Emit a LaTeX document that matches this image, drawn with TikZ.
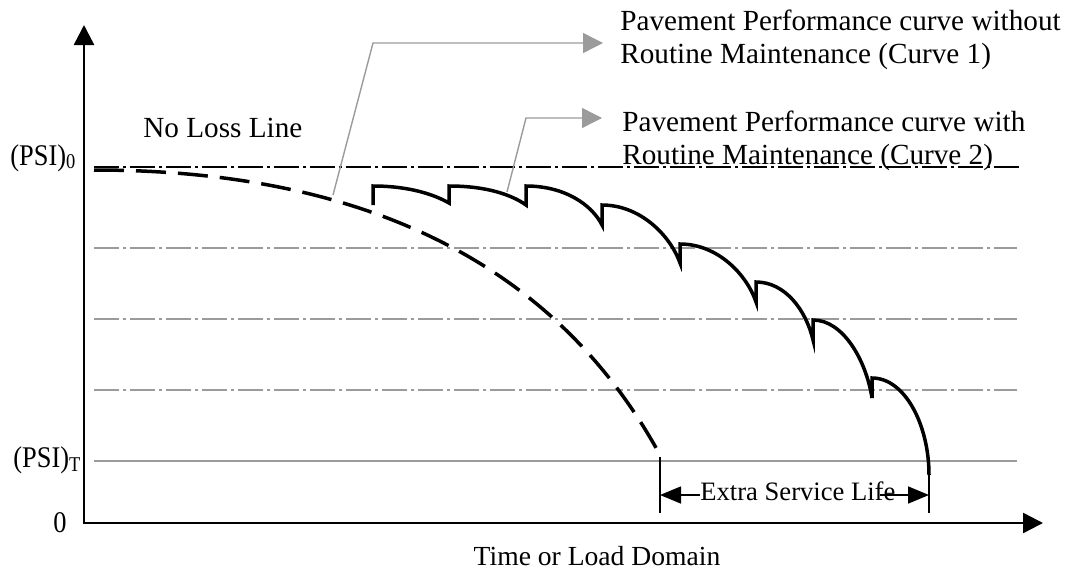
\documentclass[tikz,border=0pt]{standalone}
\usepackage{fontspec}
\setmainfont{Liberation Serif}
\newfontfamily\condserif[FakeStretch=0.88]{Liberation Serif}
\usetikzlibrary{arrows.meta}
\definecolor{lgray}{RGB}{155,155,155}
\begin{document}
\begin{tikzpicture}[x=0.5pt,y=-0.5pt,
  every node/.style={inner sep=0pt, font=\fontsize{14.6}{16}\selectfont},
  axisline/.style={line width=1.25pt, {Triangle[length=10pt,width=10pt]}-{Triangle[length=10pt,width=10pt]}},
  noloss/.style={line width=1pt, black, dash pattern=on 12.5pt off 2pt on 1.5pt off 2pt},
  gridline/.style={line width=1pt, lgray, dash pattern=on 12.5pt off 2pt on 1.5pt off 2pt},
  psitline/.style={line width=1pt, lgray},
  curveone/.style={line width=1.75pt, dash pattern=on 15pt off 6pt},
  curvetwo/.style={line width=1.75pt},
  leader/.style={line width=0.7pt, lgray, -{Triangle[length=10pt,width=10pt]}},
  dimline/.style={line width=0.6pt},
  dimarrow/.style={line width=0.8pt, -{Triangle[length=10.5pt,width=8.5pt]}},
  psilabel/.style={font=\condserif\fontsize{15}{17}\selectfont}
]
\useasboundingbox (0,0) rectangle (1070,573);

% axes
\coordinate (O) at (84,523);
\coordinate (ytip) at (84,25);
\coordinate (xtip) at (1043,523);
\draw[axisline] (ytip) -- (O) -- (xtip);

% reference lines
\coordinate (nl1) at (94,167);  \coordinate (nl2) at (1020,167);
\draw[noloss] (nl1) -- (nl2);
\coordinate (g1a) at (94,248);  \coordinate (g1b) at (1017,248);
\coordinate (g2a) at (94,319);  \coordinate (g2b) at (1017,319);
\coordinate (g3a) at (94,390);  \coordinate (g3b) at (1017,390);
\draw[gridline] (g1a) -- (g1b);
\draw[gridline] (g2a) -- (g2b);
\draw[gridline] (g3a) -- (g3b);
\coordinate (pta) at (94,461);  \coordinate (ptb) at (1017,461);
\draw[psitline] (pta) -- (ptb);

% axis labels
\node[psilabel, anchor=base west] (psi0) at (10,165) {(PSI)\raisebox{-1.5pt}{\fontsize{10.5}{11}\selectfont 0}};
\node[psilabel, anchor=base west] (psit) at (13,467) {(PSI)\raisebox{-2pt}{\fontsize{10.5}{11}\selectfont T}};
\node[psilabel, anchor=base] (zero) at (60,532) {0};
\node[anchor=base west] (nll) at (143,137) {No Loss Line};
\node[anchor=base, font=\fontsize{13.8}{15}\selectfont] (xlab) at (597,565) {Time or Load Domain};

% curve 1 (without maintenance)
\coordinate (c1s) at (94,170);
\coordinate (c1e) at (660,455);
\draw[curveone] (c1s) .. controls (400,170) and (570,290) .. (c1e);

% curve 2 (with maintenance)
\coordinate (c2s) at (373,205);
\coordinate (c2e) at (929,475);
\draw[curvetwo] (c2s) -- (373,186) .. controls (410,186) and (435,195) .. (449,203)
  -- (449,186) .. controls (487,186) and (512,195) .. (526,205)
  -- (526,186) .. controls (565,186) and (592,205) .. (602,225)
  -- (602,205) .. controls (640,205) and (670,235) .. (680,263)
  -- (680,244) .. controls (718,244) and (747,275) .. (756,302)
  -- (756,282) .. controls (785,282) and (806,310) .. (813,340)
  -- (813,320) .. controls (843,320) and (866,360) .. (872,398)
  -- (872,378) .. controls (905,378) and (929,425) .. (c2e);

% leader texts
\node[anchor=base west] (t1a) at (620,30) {Pavement Performance curve without};
\node[anchor=base west] (t1b) at (620,63) {Routine Maintenance (Curve 1)};
\node[anchor=base west] (t2a) at (622,131) {Pavement Performance curve with};
\node[anchor=base west] (t2b) at (622,164) {Routine Maintenance (Curve 2)};

% leaders
\coordinate (l1s) at (333,195); \coordinate (l1c) at (373,43); \coordinate (l1e) at (603,43);
\coordinate (l2s) at (507,192); \coordinate (l2c) at (526,118); \coordinate (l2e) at (602,118);
\draw[leader] (l1s) -- (l1c) -- (l1e);
\draw[leader] (l2s) -- (l2c) -- (l2e);

% extra service life
\coordinate (dv1a) at (660,457); \coordinate (dv1b) at (660,513);
\coordinate (dv2a) at (929,475); \coordinate (dv2b) at (929,513);
\draw[dimline] (dv1a) -- (dv1b);
\draw[dimline] (dv2a) -- (dv2b);
\node[anchor=base west, font=\fontsize{13.3}{15}\selectfont] (esl) at (700,500) {Extra Service Life};
\coordinate (dl) at (660,495); \coordinate (dla) at (700,495);
\coordinate (dr) at (929,495); \coordinate (dra) at (880,495);
\draw[dimarrow] (dla) -- (dl);
\draw[dimarrow] (dra) -- (dr);
\end{tikzpicture}
\end{document}
